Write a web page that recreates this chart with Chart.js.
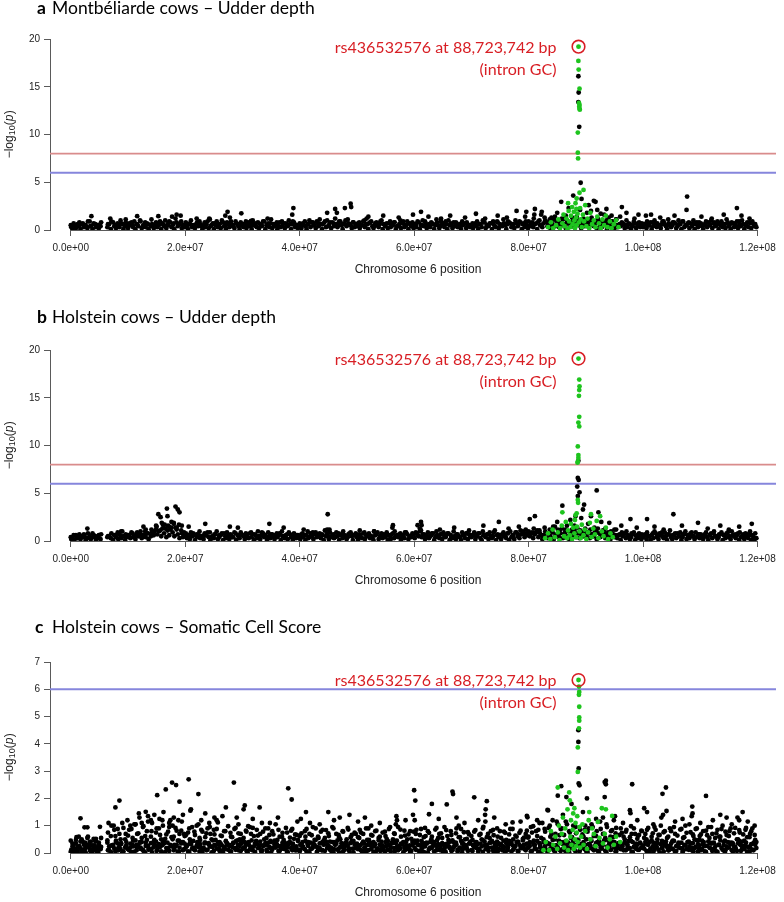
<!DOCTYPE html>
<html><head><meta charset="utf-8">
<script src="https://cdn.jsdelivr.net/npm/chart.js@4.4.1/dist/chart.umd.min.js"></script>
<style>
html,body{margin:0;padding:0;background:#fff;}
#wrap{position:relative;width:784px;height:902px;overflow:hidden;background:#fff;}
canvas{position:absolute;left:0;}
</style></head><body>
<div id="wrap">
<canvas id="pa" width="784" height="311" style="top:0px;width:784px;height:311px"></canvas>
<canvas id="pb" width="784" height="327" style="top:296px;width:784px;height:327px"></canvas>
<canvas id="pc" width="784" height="294" style="top:608px;width:784px;height:294px"></canvas>
</div>
<script>
// ---------- data (positions in Mb, values are -log10(p)) ----------
const xTickVals = [0,20,40,60,80,100,120];
const xTickLabels = ["0.0e+00","2.0e+07","4.0e+07","6.0e+07","8.0e+07","1.0e+08","1.2e+08"];
const panelLetters = ["a","b","c"];
const panelTitles = ["Montbéliarde cows – Udder depth","Holstein cows – Udder depth","Holstein cows – Somatic Cell Score"];
const leadPos = 88.723742;
const leadText = ["rs436532576 at 88,723,742 bp","(intron GC)"];
const leadVals = [19.2, 19.1, 6.34];
const genomeWideLine = 8, suggestiveLine = 6;

const snpPos = [0.1,0.3,0.6,0.9,1.2,1.4,1.7,2.1,2.3,2.6,2.9,3.3,3.5,3.8,4.1,4.4,4.6,4.9,5.2,6.4,6.7,7.0,7.4,7.6,7.9,8.3,8.5,8.8,9.2,9.5,9.7,
10.0,10.4,10.6,10.9,11.3,11.5,11.8,12.2,12.4,12.7,13.1,13.3,13.6,14.0,14.2,14.5,14.9,15.1,15.4,15.8,16.0,16.3,16.7,16.9,17.2,17.6,17.8,18.1,18.5,18.7,19.0,19.4,19.6,19.9,
20.3,20.5,20.8,21.2,21.4,21.7,22.1,22.3,22.6,23.0,23.2,23.5,23.9,24.1,24.4,24.8,25.0,25.3,25.7,25.9,26.2,26.6,26.8,27.1,27.5,27.7,28.0,28.4,28.6,28.9,29.3,29.5,29.8,
30.2,30.4,30.7,31.1,31.3,31.6,32.0,32.2,32.5,32.9,33.1,33.4,33.8,34.0,34.3,34.7,34.9,35.2,35.6,35.8,36.1,36.5,36.7,37.0,37.4,37.6,37.9,38.3,38.5,38.8,39.2,39.4,39.7,
40.1,40.3,40.6,41.0,41.2,41.5,41.9,42.1,42.4,42.8,43.0,43.3,43.7,43.9,44.2,44.6,44.8,45.1,45.5,45.7,46.0,46.4,46.6,46.9,47.3,47.5,47.8,48.2,48.4,48.7,49.1,49.3,49.6,
50.0,50.2,50.5,50.9,51.1,51.4,51.8,52.0,52.3,52.7,52.9,53.2,53.6,53.8,54.1,54.5,54.7,55.0,55.4,55.6,55.9,56.3,56.5,56.8,57.2,57.4,57.7,58.1,58.3,58.6,59.0,59.2,59.5,59.9,
60.1,60.4,60.8,61.0,61.3,61.7,61.9,62.2,62.6,62.8,63.1,63.5,63.7,64.0,64.4,64.6,64.9,65.3,65.5,65.8,66.2,66.4,66.7,67.1,67.3,67.6,68.0,68.2,68.5,68.9,69.1,69.4,69.8,
70.0,70.3,70.7,70.9,71.2,71.6,71.8,72.1,72.5,72.7,73.0,73.4,73.6,73.9,74.3,74.5,74.8,75.2,75.4,75.7,76.1,76.3,76.6,77.0,77.2,77.5,77.9,78.1,78.4,78.8,79.0,79.3,79.7,79.9,
80.2,80.6,80.8,81.1,81.5,81.7,82.0,82.4,82.6,82.9,83.3,83.5,83.8,84.2,84.4,84.7,85.1,85.3,85.6,86.0,86.2,86.5,86.9,87.1,87.4,87.8,88.0,88.3,88.7,88.9,89.2,89.6,89.8,
90.1,90.5,90.7,91.0,91.4,91.6,91.9,92.3,92.5,92.8,93.2,93.4,93.7,94.1,94.3,94.6,95.0,95.2,95.5,95.9,96.1,96.4,96.8,97.0,97.3,97.7,97.9,98.2,98.6,98.8,99.1,99.5,99.7,
100.0,100.4,100.6,100.9,101.3,101.5,101.8,102.2,102.4,102.7,103.1,103.3,103.6,104.0,104.2,104.5,104.9,105.1,105.4,105.8,106.0,106.3,106.7,106.9,107.2,107.6,107.8,108.1,108.5,108.7,109.0,109.4,109.6,109.9,
110.3,110.5,110.8,111.2,111.4,111.7,112.1,112.3,112.6,113.0,113.2,113.5,113.9,114.1,114.4,114.8,115.0,115.3,115.7,115.9,116.2,116.6,116.8,117.1,117.5,117.7,118.0,118.4,118.6,118.9,119.3,119.5,119.8];

const snpPos2 = [0.0,0.5,1.0,1.5,1.9,2.5,3.0,3.4,4.0,4.3,4.8,5.3,6.5,7.1,7.8,8.2,8.7,9.0,9.6,
10.2,10.8,11.1,11.6,12.1,12.6,13.0,13.5,14.1,14.6,15.0,15.6,16.1,16.5,17.0,17.4,18.0,18.3,18.9,19.3,19.8,
20.1,20.7,21.0,21.6,22.0,22.5,22.8,23.4,23.7,24.3,24.6,25.1,25.5,26.0,26.4,27.0,27.3,27.9,28.2,28.8,29.2,29.7,
30.0,30.6,30.9,31.5,31.8,32.4,32.7,33.3,33.6,34.2,34.5,35.0,35.4,36.0,36.3,36.9,37.2,37.8,38.1,38.7,39.0,39.5,
40.0,40.5,40.9,41.4,41.7,42.3,42.6,43.2,43.5,44.0,44.4,45.0,45.3,45.9,46.2,46.8,47.1,47.6,48.0,48.5,48.9,49.4,49.8,
50.4,50.7,51.3,51.6,52.1,52.5,53.0,53.4,54.0,54.3,54.9,55.2,55.8,56.1,56.6,57.0,57.6,57.9,58.4,58.8,59.3,59.7,
60.3,60.6,61.2,61.5,62.0,62.4,63.0,63.3,63.9,64.2,64.7,65.1,65.6,66.0,66.5,66.9,67.4,67.8,68.4,68.7,69.2,69.6,
70.2,70.5,71.0,71.4,72.0,72.3,72.9,73.2,73.8,74.1,74.6,75.0,75.6,75.9,76.4,76.8,77.3,77.7,78.2,78.6,79.2,79.5,
80.0,80.4,80.9,81.3,81.9,82.2,82.8,83.1,83.7,84.0,84.6,84.9,85.4,85.8,86.4,86.7,87.2,87.6,88.2,88.5,89.0,89.4,89.9,
90.3,90.8,91.2,91.8,92.1,92.6,93.0,93.6,93.9,94.4,94.8,95.3,95.7,96.3,96.6,97.1,97.5,98.0,98.4,99.0,99.3,99.8,
100.2,100.7,101.1,101.7,102.0,102.5,102.9,103.4,103.8,104.4,104.7,105.2,105.6,106.2,106.5,107.0,107.4,108.0,108.3,108.8,109.2,109.8,
110.1,110.6,111.0,111.6,111.9,112.4,112.8,113.3,113.7,114.3,114.6,115.1,115.5,116.1,116.4,116.9,117.3,117.9,118.2,118.7,119.1,119.6];

// panel a (on snpPos, then snpPos2)
const valA = [.3,.1,.5,.2,.6,.4,.1,.7,.3,.5,.2,.9,.4,.1,.6,.3,.5,.2,.4,.3,.6,.1,.8,.4,.2,.5,.3,.7,.1,.4,.6,
.2,.5,.8,.3,.1,.6,.4,.9,.2,.5,.3,.7,.1,.4,.6,.2,.8,.3,.5,.1,.7,.4,.2,.6,.9,.3,.5,.1,.8,.4,.6,.2,.5,.3,
.4,.1,.7,.3,.5,.2,.8,.4,.6,.1,.5,.3,.9,.2,.4,.7,.1,.5,.3,.6,.2,.8,.4,.1,.6,.3,.9,.5,.2,.7,.4,.1,.5,
.3,.6,.2,.8,.4,.1,.5,.7,.3,.2,.6,.4,.9,.1,.5,.3,.7,.2,.4,.6,.1,.8,.3,.5,.2,.7,.4,.6,.1,.9,.3,.5,.2,
.5,.2,.7,.4,.1,.6,.3,.8,.5,.2,.9,.4,.6,.1,.7,.3,1.0,.5,.2,.8,.4,.6,.3,.9,.5,.1,.7,.4,1.1,.6,.2,.8,.3,
.4,.7,.2,.5,.9,.3,.6,.1,.8,.4,.2,.7,.5,.3,.9,.1,.6,.4,.2,.7,.3,.5,.8,.1,.4,.6,.2,.9,.3,.5,.1,.7,.4,.2,
.6,.3,.8,.1,.5,.4,.9,.2,.6,.3,.7,.1,.5,.8,.2,.4,.6,.3,.9,.1,.5,.7,.2,.4,.8,.3,.6,.1,.5,.7,.2,.4,.3,
.5,.2,.7,.4,.1,.6,.3,.8,.2,.5,.4,.7,.1,.6,.3,.9,.2,.5,.4,.7,.1,.6,.8,.3,.5,.2,.7,.4,.9,.1,.6,.3,.5,.2,
.4,.8,.3,.6,.1,.9,.5,.3,.7,1.0,.4,.8,.2,.6,1.1,.4,.9,.3,.7,.5,1.2,.2,.8,.6,.4,1.0,.3,.7,.5,.9,.2,.6,.4,
.8,.3,.6,1.0,.4,.7,.2,.9,.5,.3,.8,.6,.1,.7,.4,.9,.2,.5,.3,.6,.4,.7,.2,.5,.3,.6,.1,.4,.7,.2,.5,.3,.6,
.3,.6,.2,.5,.8,.1,.4,.7,.3,.5,.2,.6,.9,.4,.1,.7,.3,.5,.8,.2,.4,.6,.1,.9,.3,.5,.7,.2,.4,.6,.1,.8,.3,.5,
.4,.1,.6,.3,.8,.5,.2,.7,.4,.9,.1,.5,.3,.6,.2,.8,.4,.1,.7,.3,.5,.2,.9,.4,.6,.1,.5,.3,.8,.2,.6,.4,.3];
const midA = [.5,.7,.4,.8,.6,.5,.9,.4,.7,.6,.5,.8,.6,.9,.5,.7,1.0,.6,.8,
.7,.5,.9,.6,1.0,.4,.8,.6,1.1,.5,.7,.9,.6,1.0,.5,.8,.7,1.2,.6,.9,.5,
.8,.6,1.0,.5,.7,.9,.4,.8,.6,1.1,.5,.7,.9,.6,1.0,.5,.8,.7,.4,.9,.6,.8,
.6,.9,.5,.7,1.0,.4,.8,.6,.9,.5,.7,1.1,.6,.8,.4,.9,.7,.5,1.0,.6,.8,.5,
.7,.5,.9,.6,1.0,.8,.5,.7,1.1,.6,.9,.4,.8,.7,1.2,.5,.9,.6,1.0,.7,.5,.8,.6,
.8,.5,1.0,.6,.7,.9,.4,.8,.6,1.0,.5,.7,.9,.6,.8,.4,1.0,.7,.5,.9,.6,.8,
.6,.9,.5,1.0,.7,.4,.8,.6,1.1,.5,.9,.7,.6,1.0,.5,.8,.7,.4,.9,.6,.8,.5,
.7,.5,.9,.6,1.0,.8,.5,.7,.9,.4,.8,.6,1.1,.5,.9,.7,.6,1.0,.5,.8,.7,.9,
.9,.6,1.2,.7,1.0,.5,1.3,.8,1.1,.6,1.4,.9,.7,1.2,.6,1.0,.8,1.3,.7,1.1,.6,.9,1.0,
.8,1.1,.6,.9,1.2,.5,.8,1.0,.6,.9,.7,1.1,.5,.8,.6,1.0,.7,.5,.9,.6,.8,.7,
.6,.9,.5,.8,1.0,.7,.4,.9,.6,1.1,.5,.8,.7,1.0,.6,.9,.5,.8,.7,1.0,.6,.8,
.7,.5,.9,.6,1.0,.8,.5,.7,.9,.6,1.1,.5,.8,.7,.9,.6,1.0,.5,.8,.7,.9,.6];

// panel b
const valB = [.2,.4,.1,.6,.3,.5,.2,.4,.7,.1,.3,.5,.2,.8,.4,.1,.3,.6,.2,.4,.5,.3,.1,.6,.4,.2,.7,.3,.5,.1,.4,
.6,.3,.9,.4,.2,.7,.5,1.0,.3,.6,.4,.8,.2,.5,.9,.6,1.2,.7,1.0,.5,1.3,.8,.4,1.1,.6,1.4,.9,.5,1.2,.7,.3,.8,.4,.6,
.3,.6,.2,.5,.8,.1,.4,.7,.3,.5,.2,.6,.9,.4,.1,.5,.3,.7,.2,.4,.6,.1,.8,.3,.5,.2,.6,.4,.9,.1,.5,.3,.7,
.5,.2,.6,.3,.8,.4,.1,.7,.3,.5,.2,.9,.4,.6,.1,.5,.3,.7,.2,.6,.4,.8,.1,.5,.3,.6,.2,.7,.4,.1,.5,.3,.6,
.2,.7,.4,.1,.6,.3,.8,.5,.2,.9,.4,.6,.3,.7,.1,.5,.8,.2,.4,.6,.3,.9,.5,.1,.7,.3,.6,.2,.4,.8,.5,.1,.6,
.4,.1,.6,.3,.8,.2,.5,.7,.3,.4,.1,.6,.9,.2,.5,.3,.7,.4,.1,.6,.2,.8,.3,.5,.4,.7,.1,.6,.3,.9,.2,.5,.4,.7,
.3,.8,.5,1.0,.4,.7,.2,.6,.3,.5,.8,.1,.4,.6,.3,.7,.2,.5,.4,.8,.1,.6,.3,.5,.2,.7,.4,.1,.6,.3,.8,.2,.5,
.4,.6,.2,.5,.8,.3,.1,.6,.4,.7,.2,.5,.3,.9,.1,.6,.4,.2,.7,.5,.3,.8,.1,.4,.6,.2,.9,.5,.3,.7,1.0,.4,.8,.6,
.5,.9,.3,.7,1.1,.4,.8,.2,.6,1.0,.3,.7,.5,.9,.2,.6,1.2,.4,.8,.3,.7,1.0,.5,.2,.9,.6,1.1,.4,.8,.3,.7,.5,1.0,
.6,.9,.3,.7,.5,1.0,.2,.8,.4,.6,.9,.3,.7,.5,.2,.8,.4,.6,.3,.7,.1,.5,.8,.3,.6,.2,.4,.7,.1,.5,.3,.6,.2,
.4,.7,.2,.5,.1,.6,.3,.8,.4,.2,.6,.9,.3,.5,.1,.7,.4,.2,.6,.3,.8,.5,.1,.4,.7,.2,.6,.3,.9,.5,.2,.4,.7,.3,
.5,.2,.7,.4,.1,.6,.3,.8,.5,.2,.4,.7,.1,.6,.3,.9,.4,.2,.6,.5,.3,.8,.1,.4,.7,.2,.5,.3,.6,.1,.4,.2,.3];
const midB = [.4,.6,.3,.7,.5,.4,.8,.3,.6,.5,.4,.7,.5,.8,.6,.9,.5,1.0,.7,
.6,.8,.5,.9,.7,.6,1.0,.8,1.2,1.0,1.5,1.1,1.7,1.3,1.6,1.2,1.9,1.4,1.7,1.1,.9,
.8,.5,.9,.6,.7,1.0,.5,.8,.6,.9,.4,.7,1.0,.6,.8,.5,.9,.7,.4,.8,.6,.9,
.6,.8,.4,.9,.7,.5,1.0,.6,.8,.4,.9,.7,.5,.8,.6,1.0,.5,.7,.9,.4,.8,.6,
.5,.8,.6,1.0,.4,.9,.7,.5,.8,.6,1.1,.5,.9,.7,.4,.8,.6,1.0,.5,.7,.9,.6,.8,
.7,.4,.9,.6,.8,.5,1.0,.7,.4,.8,.6,.9,.5,.7,1.0,.6,.8,.4,.9,.7,.5,.8,
.9,.6,1.1,.7,.5,.9,.6,.8,1.0,.5,.7,.9,.6,.8,.4,1.0,.7,.5,.9,.6,.8,.7,
.6,.9,.5,.8,1.0,.6,.7,.9,.5,1.1,.7,.6,.9,.5,.8,1.0,.6,.9,.7,1.1,.8,1.2,
1.0,.7,1.3,.9,1.1,.6,1.4,.8,1.2,1.0,1.5,.7,1.1,1.3,.9,1.6,1.0,1.2,.8,1.4,1.1,.9,1.3,
.9,1.2,.7,1.0,1.3,.8,1.1,.6,.9,1.0,.7,1.2,.6,.9,.7,1.0,.5,.8,.9,.6,.8,.7,
.6,.9,.5,.8,1.0,.6,.8,.5,.9,.7,1.1,.6,.8,.5,.9,.7,1.0,.6,.8,.5,.9,.7,
.7,.5,.9,.6,.8,1.0,.5,.7,.9,.6,.8,.5,1.0,.7,.6,.9,.5,.8,.7,1.0,.6,.8];

// panel c
const valC = [.12,.35,.05,.48,.22,.6,.15,.41,.08,.3,.55,.18,.42,.06,.28,.52,.14,.38,.2,.46,.1,.62,.25,.85,.4,.18,.7,.33,.92,.5,.27,
.64,.2,.88,.45,1.05,.3,.72,.15,.55,.98,.38,.8,.12,.6,1.1,.42,.75,.25,.9,.5,1.2,.35,.68,.18,.95,.58,1.0,.3,.82,.45,.7,1.15,.4,.62,
.28,.75,.5,.95,.2,.66,.4,1.05,.32,.78,.15,.58,.9,.36,.7,.22,.85,.48,1.12,.3,.64,.1,.8,.44,.98,.26,.6,.38,.88,.18,.72,.5,.34,
.55,.2,.78,.4,.95,.12,.62,.35,.85,.28,.7,.08,.5,.9,.3,.66,.18,.8,.45,1.05,.25,.6,.15,.74,.38,.92,.2,.56,.82,.32,.68,.1,.48,
.3,.72,.18,.6,.88,.4,.14,.65,.35,.9,.22,.55,.78,.1,.46,.84,.3,.62,.2,.95,.4,.7,.12,.58,.36,.8,.25,.5,.92,.16,.66,.42,.75,
.2,.58,.85,.34,.7,.12,.48,.9,.28,.64,.4,.8,.16,.55,.3,.75,.1,.62,.44,.88,.22,.5,.72,.36,.95,.18,.6,.4,.82,.26,.68,.14,.52,.78,
.45,.85,.3,.66,.15,.58,.92,.38,.74,.2,.6,.4,.86,.25,.7,.1,.55,.95,.32,.62,.18,.8,.46,.28,.72,.12,.58,.88,.36,.5,.2,.76,.42,
.62,.28,.84,.4,.15,.7,.5,.96,.3,.58,.2,.8,.44,.65,.12,.9,.35,.55,.25,.78,.48,.1,.68,.38,.88,.22,.6,.42,.74,.18,.52,.3,.82,.56,
.4,.75,.98,.3,.62,.85,.2,1.1,.5,.78,.35,.92,.6,1.2,.28,.7,1.05,.45,.88,.15,.66,1.15,.38,.8,.55,1.0,.25,.72,.48,.95,.32,.6,.85,
.5,.9,.3,1.05,.62,.2,.8,.45,1.15,.35,.7,.55,.95,.25,.6,.84,.4,.72,.18,.66,.9,.32,.5,.78,.22,.58,.98,.4,.7,.15,.62,.36,.82,
.28,.7,.5,.92,.15,.6,.38,.85,.22,.66,1.0,.44,.76,.3,.55,.12,.8,.42,.95,.25,.64,.35,.88,.18,.58,.74,.4,1.05,.2,.68,.5,.9,.32,.62,
.45,.8,.25,.65,.95,.38,.7,.15,.55,.85,.3,.6,1.0,.4,.78,.2,.62,.9,.35,.72,.12,.5,.84,.28,.68,.45,.92,.22,.58,.8,.36,.66,.4];
const lowC2 = [.08,.25,.15,.35,.05,.2,.42,.12,.3,.02,.22,.4,.1,.28,.18,.45,.06,.32,.14,.38,.24,.04,.3,.16,.45,.1,.26,.36,.06,.2,.4,
.14,.34,.04,.24,.46,.1,.3,.2,.4,.08,.26,.48,.16,.36,.02,.22,.42,.12,.32,.06,.28,.44,.18,.38,.08,.24,.5,.14,.3,.04,.2,.4,.1,.34,
.26,.06,.36,.16,.44,.1,.3,.22,.48,.04,.2,.38,.12,.32,.24,.46,.08,.28,.4,.16,.34,.02,.22,.42,.12,.3,.06,.36,.18,.44,.1,.26,.38,
.2,.4,.08,.3,.14,.46,.24,.04,.34,.18,.42,.1,.28,.36,.06,.22,.44,.12,.32,.2,.48,.08,.26,.38,.14,.3,.04,.4,.18,.34,.1,.24,.44,
.12,.32,.22,.44,.06,.26,.38,.16,.28,.48,.04,.2,.36,.1,.3,.42,.18,.24,.08,.4,.14,.34,.46,.02,.22,.32,.12,.38,.26,.06,.44,.16,.3,
.34,.14,.26,.06,.42,.2,.3,.1,.38,.24,.04,.32,.16,.46,.08,.28,.22,.4,.12,.3,.06,.36,.18,.44,.1,.26,.34,.02,.2,.4,.14,.28,.08,.36,
.18,.38,.08,.28,.44,.04,.24,.34,.14,.4,.2,.06,.3,.46,.12,.26,.36,.16,.04,.32,.22,.42,.1,.28,.38,.06,.2,.44,.14,.3,.24,.08,.36,
.1,.28,.4,.18,.06,.34,.24,.46,.14,.3,.08,.38,.2,.04,.26,.42,.16,.32,.1,.22,.36,.12,.44,.06,.28,.18,.4,.08,.3,.24,.46,.14,.34,.2,
.26,.08,.38,.18,.44,.04,.3,.14,.4,.22,.06,.34,.16,.48,.1,.28,.2,.42,.08,.32,.16,.26,.38,.02,.24,.44,.12,.3,.36,.06,.22,.4,.14,
.06,.32,.18,.44,.1,.26,.38,.04,.3,.16,.46,.08,.22,.34,.12,.42,.2,.06,.28,.36,.14,.24,.4,.1,.3,.18,.44,.04,.26,.34,.12,.38,.2,
.2,.4,.08,.3,.16,.46,.04,.26,.36,.12,.32,.18,.06,.42,.22,.1,.34,.16,.44,.08,.28,.2,.38,.04,.3,.14,.4,.24,.1,.36,.18,.46,.06,.28,
.14,.34,.06,.26,.42,.18,.08,.38,.22,.04,.3,.46,.12,.28,.1,.4,.2,.32,.06,.24,.16,.36,.44,.08,.26,.14,.38,.2,.04,.32,.1,.42,.18];
const lowC = [.05,.18,.1,.25,.02,.15,.3,.08,.2,.12,.04,.22,.1,.28,.06,.35,.14,.02,.24,
.1,.3,.05,.2,.38,.12,.02,.26,.15,.34,.08,.22,.4,.04,.18,.3,.1,.25,.06,.35,.14,
.2,.04,.32,.12,.26,.06,.18,.38,.1,.24,.02,.3,.16,.08,.28,.14,.36,.05,.22,.12,.3,.08,
.15,.3,.04,.22,.1,.34,.18,.06,.26,.12,.38,.02,.2,.3,.08,.16,.24,.04,.32,.1,.2,.14,
.06,.24,.14,.36,.02,.2,.3,.1,.18,.4,.08,.26,.12,.04,.32,.16,.22,.06,.28,.12,.36,.02,.18,
.28,.1,.2,.04,.34,.14,.24,.08,.3,.18,.02,.26,.12,.38,.06,.22,.16,.32,.1,.2,.04,.28,
.12,.3,.06,.22,.36,.02,.18,.26,.1,.32,.14,.04,.24,.38,.08,.2,.3,.12,.02,.26,.16,.34,
.08,.22,.32,.14,.04,.28,.18,.38,.1,.24,.06,.3,.16,.02,.2,.34,.12,.26,.06,.18,.3,.1,
.2,.06,.3,.14,.36,.02,.24,.1,.32,.18,.04,.28,.12,.4,.08,.22,.16,.34,.06,.26,.12,.2,.3,
.04,.26,.14,.36,.08,.2,.3,.02,.24,.12,.38,.06,.18,.28,.1,.34,.16,.04,.22,.3,.12,.2,
.16,.32,.06,.24,.12,.38,.02,.2,.3,.1,.26,.14,.04,.34,.18,.08,.28,.12,.36,.06,.22,.16,
.1,.28,.04,.2,.34,.14,.06,.3,.18,.02,.24,.38,.1,.22,.08,.32,.16,.26,.04,.2,.12,.3];
const midC = [.45,.3,.58,.22,.5,.38,.6,.28,.52,.42,.25,.55,.75,1.0,.62,.88,.5,1.1,.7,
.85,.55,1.05,.7,.4,.95,.62,1.15,.8,.48,.9,.66,1.0,.52,.78,1.2,.6,.92,.45,.82,.7,
.65,.9,.42,.78,1.0,.55,.85,.35,.72,.95,.5,.68,.88,.4,.62,.8,.3,.74,.58,.92,.46,.7,
.5,.82,.36,.7,.92,.44,.64,.28,.78,.55,.9,.4,.68,.32,.85,.6,.48,.75,.38,.88,.52,.66,
.62,.4,.8,.3,.7,.95,.48,.6,.35,.85,.55,.72,.42,.9,.3,.66,.5,.78,.38,.86,.58,.44,.7,
.55,.75,.35,.9,.48,.66,.3,.82,.6,.42,.78,.52,.95,.38,.7,.45,.86,.32,.64,.5,.8,.4,
.7,.45,.88,.35,.62,.8,.5,.38,.92,.55,.72,.3,.84,.48,.66,.4,.9,.58,.34,.76,.52,.68,
.48,.78,.32,.66,.9,.42,.7,.55,.85,.36,.6,.8,.45,.74,.3,.88,.5,.64,.4,.82,.56,.7,
.6,.95,.45,.8,1.1,.55,.88,.4,1.0,.7,.5,1.15,.65,.9,.42,1.05,.75,.58,.95,.48,.85,.68,1.0,
.78,.5,.95,.62,.4,.88,.7,1.05,.46,.8,.58,.92,.36,.74,.6,.85,.44,.7,.9,.52,.66,.8,
.55,.85,.4,.72,.95,.5,.66,.35,.8,.6,.9,.45,.7,.38,.86,.55,1.0,.42,.76,.62,.88,.48,
.68,.4,.82,.55,.95,.36,.72,.6,.88,.45,.66,.8,.38,.92,.5,.75,.42,.85,.58,.7,.9,.48];

const hiA = [[3.6,1.45],[6.9,1.2],[9.6,1.1],[11.6,1.45],[15.3,1.45],[17.7,1.4],[18.5,1.6],[19.2,1.5],[22.0,1.2],[24.2,1.2],[27.0,1.5],[27.4,1.9],[27.8,1.3],[29.8,1.75],[31.5,0.95],[34.4,1.2],[38.7,1.6],[38.9,2.3],[44.8,1.8],[46.2,2.2],[46.5,1.8],[47.9,2.3],[48.9,2.75],[49.0,2.4],[51.7,1.2],[52.0,1.4],[54.6,1.5],[57.3,1.3],[59.8,1.6],[61.2,1.9],[62.5,1.4],[64.7,1.2],[66.3,1.5],[68.9,1.3],[70.8,1.7],[72.4,1.2],[74.6,1.5],[76.2,1.3],[77.9,2.0],[79.4,1.4],[79.6,1.9],[81.0,1.6],[81.1,2.2],[82.2,1.6],[82.3,1.9],[84.0,1.3],[85.0,1.8],[85.7,2.95],[86.0,1.1],[86.5,1.5],[87.0,2.3],[87.8,3.6],[88.4,1.4],[88.7,16.1],[88.75,14.4],[88.7,13.4],[88.85,10.8],[89.0,2.1],[89.1,4.95],[89.25,3.25],[89.6,1.2],[90.2,1.8],[90.5,2.6],[90.9,2.0],[91.0,1.3],[91.4,3.05],[91.7,2.95],[92.0,2.1],[92.6,1.7],[93.2,1.6],[93.6,2.2],[94.0,1.3],[94.5,1.5],[95.3,1.1],[96.0,1.4],[96.3,2.4],[97.1,1.8],[98.5,1.2],[99.2,1.6],[100.5,1.5],[101.4,1.6],[103.0,1.3],[105.5,1.5],[107.6,2.1],[107.7,3.5],[110.2,1.4],[112.0,1.2],[114.1,1.6],[116.4,2.3],[117.2,1.5],[118.6,1.2]];
const greenA = [[88.7,17.7],[88.75,16.8],[88.9,14.8],[88.8,13.3],[88.9,13.1],[88.85,12.9],[88.9,12.7],[88.95,12.6],[88.6,10.2],[88.6,8.1],[88.65,7.5],[89.6,4.2],[88.9,3.9],[88.4,3.3],[86.9,2.8],[88.2,2.8],
[83.4,0.3],[83.9,0.8],[84.3,0.2],[84.8,0.5],[85.2,1.1],[85.5,0.2],[85.9,0.7],[86.1,1.6],[86.3,0.4],[86.6,1.2],[86.8,0.1],[87.0,2.0],[87.1,0.9],[87.3,0.3],[87.4,1.5],[87.6,2.4],[87.7,0.6],[87.9,1.9],[88.0,1.0],[88.1,0.2],[88.3,1.3],[88.35,2.2],[88.4,0.5],[88.55,1.7],[88.8,0.8],[89.0,2.3],[89.1,1.1],[89.3,0.3],[89.5,1.6],[89.7,0.9],[89.9,2.6],[90.1,0.4],[90.3,1.2],[90.6,0.2],[90.8,1.8],[91.1,0.6],[91.4,1.0],[91.7,0.3],[92.0,1.4],[92.3,0.7],[92.6,0.2],[92.9,1.1],[93.2,0.5],[93.5,1.5],[93.8,0.3],[94.2,0.9],[94.5,0.2],[94.9,0.6],[95.3,1.0],[95.7,0.3]];

const hiB = [[2.9,1.3],[8.8,1.0],[12.7,1.5],[13.1,1.2],[14.9,1.6],[15.3,2.8],[15.7,2.5],[15.9,1.9],[16.4,1.7],[16.8,3.4],[16.9,2.6],[17.2,1.5],[17.6,2.0],[18.0,1.8],[18.3,3.6],[18.5,1.4],[18.7,3.3],[19.0,3.0],[19.4,1.6],[20.6,1.5],[23.5,1.8],[27.8,1.5],[29.2,1.4],[34.7,1.8],[37.2,1.4],[40.7,1.2],[44.8,1.2],[44.9,2.8],[45.2,1.2],[50.5,1.1],[53.0,1.0],[56.2,1.4],[56.3,1.65],[60.6,1.65],[61.0,1.3],[61.2,2.0],[61.3,1.65],[64.5,1.2],[67.0,1.4],[69.6,1.1],[72.1,1.6],[74.8,2.0],[76.5,1.3],[78.3,1.5],[80.2,2.3],[81.1,2.6],[84.3,1.5],[85.0,2.0],[85.9,3.7],[86.4,1.2],[87.3,2.2],[88.0,1.6],[88.2,2.6],[88.5,5.7],[88.6,6.6],[88.6,4.7],[88.7,8.4],[88.75,6.4],[88.9,5.1],[89.2,2.4],[89.5,3.3],[89.7,3.8],[90.4,1.8],[90.9,2.6],[91.5,1.4],[91.9,5.3],[92.2,3.0],[92.7,2.0],[93.4,1.3],[94.1,1.9],[95.0,1.2],[96.2,1.6],[97.8,2.3],[98.9,1.4],[100.7,2.3],[102.0,1.5],[103.6,1.2],[105.3,2.8],[106.8,1.6],[109.6,1.9],[111.3,1.3],[113.5,1.6],[115.0,1.2],[116.8,1.5],[119.0,1.8]];
const greenB = [[88.85,16.9],[88.9,16.2],[88.85,15.8],[88.8,15.2],[88.85,13.0],[88.7,12.4],[88.85,12.0],[88.6,9.9],[88.7,9.0],[88.7,8.7],[88.6,8.3],[88.55,8.2],[88.6,4.3],[88.65,4.0],[85.9,3.0],[88.4,2.9],[88.2,2.7],[90.9,2.8],[92.5,2.6],
[82.9,0.3],[83.4,0.8],[83.8,0.2],[84.2,1.2],[84.6,0.4],[85.1,0.9],[85.4,0.1],[85.8,1.6],[86.2,0.5],[86.5,2.0],[86.7,0.3],[86.9,1.1],[87.2,0.6],[87.4,1.8],[87.6,0.2],[87.8,1.4],[88.0,0.8],[88.1,2.2],[88.3,0.4],[88.45,1.5],[88.9,1.0],[89.1,0.3],[89.3,1.7],[89.6,0.6],[89.8,1.2],[90.1,0.2],[90.4,0.9],[90.7,1.9],[91.0,0.4],[91.3,1.3],[91.6,0.7],[91.9,2.1],[92.2,0.3],[92.8,1.0],[93.1,0.5],[93.5,1.4],[93.9,0.2],[94.3,0.8],[94.7,0.4]];

const hiC = [[1.7,1.27],[2.4,0.94],[2.9,0.94],[5.1,0.96],[6.6,1.1],[7.5,1.0],[7.8,1.67],[8.5,1.92],[9.9,1.2],[10.4,1.0],[11.3,1.05],[11.9,1.45],[12.0,1.3],[12.4,1.1],[13.1,1.51],[13.5,1.35],[14.0,1.2],[14.6,1.4],[15.1,2.12],[15.5,1.25],[16.2,1.5],[16.6,2.33],[17.2,1.1],[17.7,2.58],[18.0,1.3],[18.4,2.49],[18.8,1.2],[19.0,1.88],[19.6,1.4],[20.6,2.7],[20.9,1.55],[21.0,1.6],[22.3,2.16],[22.8,1.2],[23.5,1.45],[24.2,1.1],[25.1,1.3],[25.5,1.2],[26.5,1.35],[27.1,1.67],[28.5,2.58],[29.0,1.3],[29.3,1.05],[30.2,1.6],[30.4,1.74],[31.0,0.98],[31.8,1.25],[33.0,1.67],[33.4,1.1],[34.8,1.1],[36.2,1.3],[38.0,2.37],[38.6,1.96],[39.6,1.15],[40.2,1.25],[41.1,1.5],[41.8,1.1],[43.5,1.05],[45.0,1.5],[46.0,1.2],[47.0,1.3],[48.7,1.4],[50.2,1.15],[51.4,1.3],[52.5,1.0],[54.0,1.1],[56.8,1.05],[56.9,1.35],[57.0,1.2],[58.5,1.2],[59.8,1.4],[60.0,2.3],[60.1,1.2],[60.2,1.92],[62.6,1.42],[63.1,1.8],[64.3,1.25],[65.7,1.78],[66.7,2.25],[66.8,2.16],[67.4,1.3],[67.8,1.0],[68.8,1.1],[70.5,2.04],[71.2,1.2],[72.4,1.4],[72.45,1.15],[72.5,1.6],[72.7,1.9],[74.0,1.3],[76.0,1.05],[77.2,1.12],[78.6,1.15],[79.7,1.36],[79.8,1.31],[81.5,1.2],[83.3,1.58],[83.4,1.56],[85.1,2.1],[85.7,2.45],[86.0,1.4],[86.6,2.05],[87.5,1.8],[88.7,4.5],[88.7,4.07],[88.75,3.1],[88.75,2.55],[88.9,2.48],[89.5,1.5],[90.2,2.0],[91.8,1.25],[93.0,1.3],[93.3,2.05],[93.3,2.6],[93.5,2.65],[93.5,2.52],[94.9,1.2],[95.1,1.35],[96.5,1.1],[97.7,1.57],[97.8,1.46],[98.1,2.52],[99.0,1.2],[100.2,1.64],[100.7,1.5],[101.8,1.05],[103.2,1.3],[103.4,2.17],[103.5,1.4],[104.0,2.4],[104.1,1.54],[105.6,1.15],[106.9,1.25],[108.5,1.35],[108.6,1.7],[108.65,1.45],[110.0,1.1],[111.0,2.09],[112.2,1.2],[113.5,1.4],[114.6,1.3],[115.5,1.05],[116.5,1.3],[116.8,1.2],[117.4,1.5],[118.3,1.15],[119.5,1.0]];
const greenC = [[88.8,6.1],[88.85,5.9],[88.8,5.8],[88.85,5.36],[88.85,4.97],[88.85,4.85],[88.8,4.57],[88.6,3.87],[88.6,2.97],
[82.6,0.1],[83.0,0.4],[83.6,0.1],[83.9,0.8],[84.3,0.3],[84.7,0.6],[85.0,0.15],[85.1,2.4],[85.3,1.0],[85.5,0.35],[85.8,0.7],[86.0,1.3],[86.2,0.2],[86.4,0.9],[86.6,0.45],[86.8,1.6],[86.9,0.1],[87.1,2.22],[87.2,1.93],[87.3,0.6],[87.4,1.2],[87.5,0.3],[87.7,0.85],[87.8,1.45],[87.9,0.15],[88.0,1.64],[88.1,0.5],[88.2,1.1],[88.3,0.25],[88.4,0.75],[88.5,1.35],[88.6,0.4],[88.9,0.95],[89.0,0.2],[89.2,0.6],[89.4,1.05],[89.6,0.3],[89.9,0.8],[90.2,0.15],[90.5,1.2],[90.6,1.5],[90.8,0.5],[91.1,0.9],[91.4,0.7],[91.7,0.25],[92.1,1.14],[92.4,0.55],[92.8,1.64],[93.0,0.35],[93.3,0.7],[93.5,1.6],[93.8,0.2],[94.2,0.5],[94.6,1.36],[94.9,0.3],[95.3,0.6],[96.0,0.4]];

// ---------- styling ----------
const XMIN = -3.63, XMAX = 123.25;
const RED = '#d81e24', GREEN = '#1ec41e', BLACK = '#000000';
const AXIS = '#5a5a5a', TXT = '#222222';
const SANS = "'Liberation Sans', Arial, Helvetica, sans-serif";
const HUM = "Lato, 'Open Sans', sans-serif";

const mctx = document.createElement('canvas').getContext('2d');
function fit(text, weight, base, target){ mctx.font = weight+' '+base+'px '+HUM; return base*target/mctx.measureText(text).width; }
const titleSize = fit(panelTitles[0], 'normal', 18, 263);
const annSize = fit(leadText[0], 'normal', 16, 222);

function pts(pos, vals){ const n = Math.min(pos.length, vals.length), o = []; for (let i=0;i<n;i++) o.push({x:pos[i], y:vals[i]}); return o; }
function pairs(a){ return a.map(p => ({x:p[0], y:p[1]})); }

const axisLinePlugin = {
  id:'axisLine',
  beforeDatasetsDraw(chart){
    const {ctx, chartArea:ca, scales:{x}} = chart;
    ctx.save(); ctx.strokeStyle = AXIS; ctx.lineWidth = 1;
    const yb = Math.round(ca.bottom) + 0.5;
    ctx.beginPath();
    ctx.moveTo(x.getPixelForValue(xTickVals[0]), yb);
    ctx.lineTo(x.getPixelForValue(xTickVals[xTickVals.length-1]), yb);
    ctx.stroke(); ctx.restore();
  },
  afterDraw(chart, args, o){
    const {ctx, chartArea:ca, scales:{x, y}} = chart;
    ctx.save();
    ctx.textBaseline = 'middle'; ctx.textAlign = 'left'; ctx.fillStyle = '#000';
    ctx.font = 'bold '+titleSize.toFixed(2)+'px '+HUM;
    ctx.fillText(o.letter, o.letterX, o.titleY);
    ctx.font = 'normal '+titleSize.toFixed(2)+'px '+HUM;
    ctx.fillText(o.title, 52, o.titleY);
    ctx.font = '12px '+SANS; ctx.fillStyle = TXT; ctx.textAlign = 'center';
    ctx.fillText('Chromosome 6 position', 418, ca.bottom + 40);
    const cy = (ca.top + ca.bottom)/2;
    ctx.translate(10, cy); ctx.rotate(-Math.PI/2);
    ctx.textAlign = 'left'; ctx.textBaseline = 'middle';
    const f1 = '12px '+SANS, f2 = '9px '+SANS, f3 = 'italic 12px '+SANS;
    ctx.font = f1; const w1 = ctx.measureText('\u2212log').width;
    ctx.font = f2; const w2 = ctx.measureText('10').width;
    ctx.font = f1; const w3 = ctx.measureText('(').width;
    ctx.font = f3; const w4 = ctx.measureText('p').width;
    ctx.font = f1; const w5 = ctx.measureText(')').width;
    let sx = -(w1+w2+w3+w4+w5)/2;
    ctx.font = f1; ctx.fillText('\u2212log', sx, 0); sx += w1;
    ctx.font = f2; ctx.fillText('10', sx, 3); sx += w2;
    ctx.font = f1; ctx.fillText('(', sx, 0); sx += w3;
    ctx.font = f3; ctx.fillText('p', sx, 0); sx += w4 + 0.5;
    ctx.font = f1; ctx.fillText(')', sx, 0);
    ctx.restore();
    ctx.save();
    const px = x.getPixelForValue(leadPos), py = y.getPixelForValue(o.lead);
    ctx.fillStyle = RED; ctx.textAlign = 'right'; ctx.textBaseline = 'middle';
    ctx.font = 'normal '+annSize.toFixed(2)+'px '+HUM;
    ctx.fillText(leadText[0], px - 22, py + 1);
    ctx.fillText(leadText[1], px - 22, py + 23);
    ctx.restore();
  }
};

function panel(id, H, topPad, spec){
  const ds = [];
  ds.push({data:[{x:leadPos, y:spec.lead}], pointRadius:6.3, pointHoverRadius:6.3, backgroundColor:'rgba(0,0,0,0)', borderColor:RED, borderWidth:1.6, order:-1});
  ds.push({data:[{x:leadPos, y:spec.lead}].concat(pairs(spec.green)), pointRadius:2.4, backgroundColor:GREEN, borderWidth:0, order:0});
  ds.push({data:pairs(spec.hi), pointRadius:2.4, backgroundColor:BLACK, borderWidth:0, order:1});
  spec.base.forEach(b => ds.push({data:b, pointRadius:2.4, backgroundColor:BLACK, borderWidth:0, order:2}));
  spec.lines.forEach(l => ds.push({type:'line', data:[{x:XMIN, y:l.y},{x:XMAX, y:l.y}], borderColor:l.c, borderWidth:l.w, pointRadius:0, fill:false, order:5}));
  new Chart(document.getElementById(id), {
    type:'scatter',
    data:{datasets:ds},
    plugins:[axisLinePlugin],
    options:{
      responsive:false, animation:false, devicePixelRatio:1, events:[],
      layout:{padding:{top:topPad, left:0, right:0, bottom:H-topPad-191-40}},
      plugins:{legend:{display:false}, tooltip:{enabled:false},
        axisLine:{letter:spec.letter, title:spec.title, titleY:spec.titleY, letterX:spec.letterX, lead:spec.lead}},
      scales:{
        x:{type:'linear', min:XMIN, max:XMAX,
          afterBuildTicks:s => { s.ticks = xTickVals.map(v => ({value:v})); },
          afterFit:s => { s.height = 40; },
          ticks:{autoSkip:false, maxRotation:0, minRotation:0, padding:6, color:TXT, font:{family:SANS, size:10},
            callback:(v,i) => xTickLabels[i]},
          grid:{drawOnChartArea:false, drawTicks:true, tickLength:6, color:AXIS, lineWidth:1},
          border:{display:false}},
        y:{type:'linear', min:0, max:spec.ymax,
          afterFit:s => { s.width = 50; },
          ticks:{stepSize:spec.step, padding:4, color:TXT, font:{family:SANS, size:10}},
          grid:{drawOnChartArea:false, drawTicks:true, tickLength:6, color:AXIS, lineWidth:1},
          border:{display:true, color:AXIS, width:1}}
      }
    }
  });
}

const redLine = {y:genomeWideLine, c:'#d98c8c', w:1.6};
const blueLine = {y:suggestiveLine, c:'#8686dc', w:2};

panel('pa', 311, 39, {letter:panelLetters[0], letterX:37, title:panelTitles[0], titleY:8.5, lead:leadVals[0], ymax:20, step:5,
  base:[pts(snpPos, valA), pts(snpPos2, midA)], hi:hiA, green:greenA, lines:[redLine, blueLine]});
panel('pb', 327, 54, {letter:panelLetters[1], letterX:37, title:panelTitles[1], titleY:21, lead:leadVals[1], ymax:20, step:5,
  base:[pts(snpPos, valB), pts(snpPos2, midB)], hi:hiB, green:greenB, lines:[redLine, blueLine]});
panel('pc', 294, 54, {letter:panelLetters[2], letterX:35, title:panelTitles[2], titleY:19, lead:leadVals[2], ymax:7, step:1,
  base:[pts(snpPos, valC), pts(snpPos2, lowC), pts(snpPos, lowC2), pts(snpPos2, midC)], hi:hiC, green:greenC, lines:[blueLine]});
</script>
</body></html>
